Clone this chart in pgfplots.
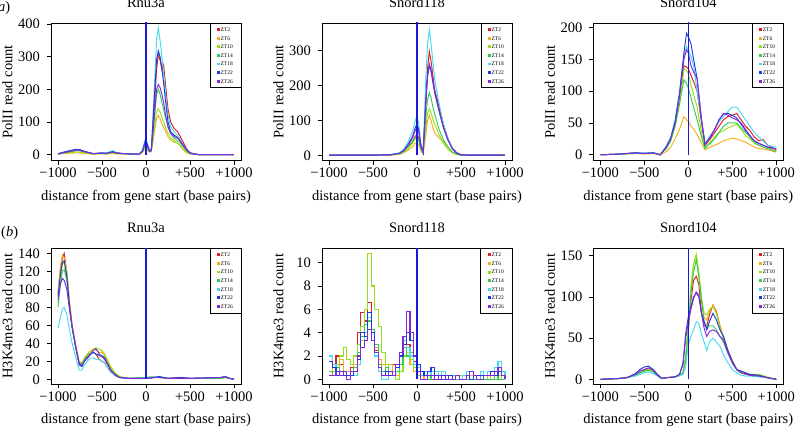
\documentclass[border=0pt]{standalone}
\usepackage{fontspec}
\setmainfont{Liberation Serif}
\usepackage{pgfplots}
\usepackage{pgfplotstable}
\pgfplotsset{compat=1.18}

\definecolor{zt2}{RGB}{225,30,35}
\definecolor{zt6}{RGB}{245,175,30}
\definecolor{zt10}{RGB}{150,225,20}
\definecolor{zt14}{RGB}{50,205,80}
\definecolor{zt18}{RGB}{70,220,240}
\definecolor{zt22}{RGB}{30,60,220}
\definecolor{zt26}{RGB}{130,40,220}
\definecolor{vl}{RGB}{25,25,215}

\newcommand\fs{\fontsize{14.5}{16}\selectfont}
\newcommand\lfs{\fontsize{5.5}{6}\selectfont}

% ---------- PolII Rnu3a ----------
\pgfplotstableread{
x a b c d e f g
-1000 2 2 2 2 3 3 2
-900 6 4 5 8 10 10 8
-800 12 5 8 12 16 16 14
-750 12 5 7 12 15 15 13
-700 8 3 5 8 10 10 9
-600 3 2 2 3 3 3 3
-500 4 2 3 4 6 5 5
-450 3 2 2 3 5 4 4
-380 7 3 5 7 12 9 8
-330 4 2 3 4 6 5 5
-250 3 2 2 3 3 3 3
-150 2 1 2 2 2 2 2
-80 1 1 1 1 1 1 1
-40 8 6 8 10 15 12 10
-10 30 20 25 30 45 40 35
10 25 15 20 25 40 35 30
40 10 8 8 10 14 12 10
60 12 10 10 12 15 14 12
90 120 60 70 100 180 150 100
120 260 110 130 185 350 290 200
140 305 120 140 200 388 318 215
160 290 110 130 185 350 300 205
180 260 95 115 160 300 265 185
200 275 85 100 140 250 220 160
220 220 72 85 115 190 170 125
250 140 55 65 85 120 100 85
280 100 45 52 65 85 70 65
320 80 38 42 50 70 60 55
360 70 35 35 42 60 52 50
380 60 30 30 38 50 45 45
420 40 15 18 25 30 30 30
460 18 6 8 12 15 15 15
500 6 2 3 4 5 5 5
550 2 1 1 1 2 2 2
600 0 0 0 0 0 0 0
1000 0 0 0 0 0 0 0
}\tA

% ---------- PolII Snord118 ----------
\pgfplotstableread{
x a b c d e f g
-1000 1 1 1 1 1 1 1
-500 1 1 1 1 1 1 1
-300 2 1 2 2 3 2 2
-200 5 3 4 5 8 6 6
-150 12 8 10 12 18 15 14
-100 25 15 20 25 40 32 30
-50 40 25 35 40 70 55 50
-20 55 35 48 52 100 80 72
0 60 38 50 55 115 90 82
20 50 30 42 45 90 75 68
40 25 15 20 22 40 35 30
70 8 5 5 6 10 8 8
100 150 60 80 110 220 160 150
120 250 100 120 160 320 230 225
140 298 115 133 180 361 262 258
160 270 100 122 165 320 245 240
180 230 80 105 140 270 215 210
200 190 65 90 120 220 185 180
250 140 50 60 75 150 130 128
300 90 40 35 45 90 80 80
350 50 25 18 25 50 45 45
400 22 10 8 10 22 20 20
450 8 3 3 4 8 7 7
500 2 1 1 1 2 2 2
600 1 1 1 1 1 1 1
1000 1 1 1 1 1 1 1
}\tB

% ---------- PolII Snord104 ----------
\pgfplotstableread{
x a b c d e f g
-1000 0 0 0 0 0 0 0
-800 1 1 1 1 1 1 1
-600 3 2 2 2 3 3 3
-500 2 1 2 2 3 2 2
-400 3 2 3 3 4 3 3
-320 0 0 0 0 0 0 0
-250 12 5 10 10 14 12 12
-200 25 12 22 22 28 26 26
-150 50 25 45 45 55 52 50
-100 90 40 80 80 100 95 95
-50 140 60 135 118 155 160 150
-20 138 55 132 112 170 191 165
0 135 52 128 105 165 185 160
30 125 45 110 90 155 175 140
60 115 40 95 75 140 150 130
100 100 32 75 55 100 120 120
150 50 18 35 28 55 55 55
190 15 8 12 10 18 16 15
250 25 12 20 18 30 28 28
300 35 15 28 25 40 40 40
350 45 18 35 35 52 55 55
400 55 22 38 45 60 64 65
450 60 24 42 50 68 65 62
500 62 26 45 50 75 62 58
550 65 25 48 50 75 58 55
600 55 22 40 42 65 48 50
650 45 20 30 35 55 38 40
700 38 16 25 28 45 30 30
750 28 12 18 20 35 22 22
800 22 10 15 15 28 18 18
850 24 9 12 12 22 15 15
900 15 8 10 10 15 12 12
1000 8 4 6 5 12 9 9
}\tC

% ---------- H3K4me3 Rnu3a ----------
\pgfplotstableread{
x a b c d e f g
-1000 95 95 85 80 57 92 88
-975 120 125 110 105 68 115 105
-950 135 138 128 120 78 130 112
-930 140 135 130 122 80 132 110
-900 118 120 112 110 72 115 100
-870 85 88 80 80 55 82 78
-840 60 60 58 58 40 58 58
-800 38 38 36 36 25 36 36
-760 18 20 18 18 10 16 18
-730 16 18 17 17 10 14 15
-700 22 24 22 22 16 20 20
-650 28 30 30 28 22 26 25
-600 30 34 32 30 24 30 32
-570 28 33 35 28 22 28 34
-530 22 30 33 26 22 27 28
-500 20 30 32 25 20 26 25
-470 18 26 28 22 18 24 22
-430 12 18 20 15 12 16 16
-400 8 12 14 10 8 10 10
-350 4 6 7 5 4 5 5
-300 2 3 3 2 2 2 2
-200 1 1 1 1 1 1 1
0 1 1 2 2 1 1 1
100 2 2 3 3 3 2 2
150 2 2 2 3 3 3 2
250 1 1 1 1 1 1 1
400 2 1 1 1 1 2 1
500 1 1 1 1 1 1 1
850 1 1 1 1 2 2 2
900 2 2 2 2 3 3 3
950 1 1 1 1 1 1 1
1000 0 0 0 0 0 0 0
}\tD

% ---------- H3K4me3 Snord118 ----------
\pgfplotstableread{
x a b c d e f g
-1000 0.3 0.3 0.3 0.7 2.0 1.5 0.3
-960 1.0 1.3 0.7 0.3 1.3 1.0 0.3
-920 2.0 0.7 1.3 1.0 0.7 0.3 0.7
-880 1.3 1.7 2.0 0.3 0.3 0.7 0.3
-840 0.7 0.3 2.7 0.7 0.7 0.3 0.7
-800 0.3 0.7 1.7 0.3 0.3 0.3 0
-760 1.0 0.3 1.3 0.7 0.7 0.3 0.7
-720 2.0 1.3 2.0 1.0 0.3 0.7 0.7
-680 4.0 2.0 3.0 2.3 1.3 1.7 2.0
-640 5.7 3.3 4.5 3.7 2.7 4.0 2.7
-600 5.0 4.0 6.0 4.7 4.0 3.7 3.3
-560 6.6 5.7 10.8 5.0 5.3 5.7 4.3
-520 4.0 4.3 8.0 4.3 3.3 4.0 3.3
-480 2.5 2.7 6.0 3.0 2.0 2.3 2.3
-440 1.3 1.7 4.5 1.3 0.7 1.0 1.0
-400 0.7 1.3 2.3 0.7 0 0.3 0.3
-360 0.3 0.7 1.3 1.0 0 0.7 0.3
-320 0.7 1.3 0.7 0.7 0.3 0.3 0.7
-280 1.3 0.7 0.3 0.3 0.7 0.3 0.3
-240 0.3 0.3 0 0.7 1.3 1.0 1.3
-200 0.7 1.3 0.7 1.3 2.0 2.0 2.3
-160 2.0 2.7 2.0 2.7 3.3 3.0 3.7
-120 3.0 2.3 2.7 2.0 2.7 4.0 5.8
-80 2.3 1.3 1.7 2.3 2.0 3.3 4.0
-40 1.5 0.7 1.0 1.3 1.3 2.0 2.0
0 0.7 0.3 0.3 0.7 1.0 1.3 0.7
40 0.3 0 0 0.3 0.3 0.7 0
80 0 0.3 0 0.3 0.7 0.3 0
120 0.3 0 0.3 0 0.3 0.7 0.3
160 0 0.3 0.7 0.3 0.7 1.0 0.3
200 0.3 0 0.3 0 0.7 0.3 0
240 0 0.7 0 0.3 0.3 0 0.3
280 0.3 0.7 0 0 0.7 0.3 0
320 0 0.3 0.3 0 0.3 0 0.3
360 0 0 0 0.3 0 0.3 0
400 0.3 0 0 0 0.3 0 0
440 0 0.3 0 0 0.3 0.3 0.3
480 0 0 0.3 0 0 0 0
520 0 0 0 0.3 0.3 0 0
560 0 0 0 0 0.7 0.3 0.3
600 0 0.3 0 0 0.7 0 0.7
640 0.3 0 0 0 0.3 0.3 0.3
680 0 0 0 0.3 0.3 0.3 0
720 0 0 0 0 0.7 0.3 0
760 0 0 0.3 0 0.3 0.3 0.3
800 0.3 0 0 0 0.7 0.3 0.3
840 0 0.3 0 0 0.3 0.7 0.3
880 0 0 0 0.3 1.0 0.3 0.7
920 0 0 0.3 0 1.5 0.7 1.0
960 0 0 0 0 0.7 0.3 0.3
1000 0 0 0 0 0.3 0.3 0
}\tE

% ---------- H3K4me3 Snord104 ----------
\pgfplotstableread{
x a b c d e f g
-1000 0 0 0 0 0 0 0
-800 1 1 1 1 1 1 1
-700 2 2 2 2 2 2 2
-600 6 5 5 5 4 7 6
-550 9 9 8 8 6 12 10
-500 11 12 10 10 8 15 12
-450 13 13 12 11 9 16 14
-400 10 11 10 9 7 12 11
-350 5 5 5 4 4 6 5
-300 1 1 1 1 1 1 1
-250 2 2 2 2 2 2 2
-150 3 3 3 3 3 3 3
-100 5 5 5 5 4 6 6
-60 8 8 8 8 6 20 18
-30 25 25 28 25 15 55 50
0 60 62 65 60 42 76 70
30 95 110 115 105 52 88 85
60 120 140 140 130 60 100 98
90 125 150 152 145 70 105 106
120 115 125 130 125 68 100 102
150 80 95 100 95 55 80 80
180 65 75 80 70 45 70 62
210 65 72 78 62 35 60 52
240 78 82 85 65 45 70 58
280 90 90 88 65 50 80 60
320 82 80 80 60 45 72 58
360 65 65 62 52 40 60 52
400 50 52 50 45 30 52 48
450 35 35 35 32 20 35 32
500 22 22 22 20 12 22 20
550 12 12 12 12 8 12 12
600 8 8 10 8 5 10 8
650 6 7 8 7 4 8 7
700 5 6 6 5 4 6 5
800 4 5 6 4 3 5 4
900 2 2 3 2 2 2 2
1000 0 0 0 0 0 0 0
}\tF

\newcommand\seven[2][]{%
  \addplot[zt2,#1] table[x=x,y=a]{#2};
  \addplot[zt6,#1] table[x=x,y=b]{#2};
  \addplot[zt10,#1] table[x=x,y=c]{#2};
  \addplot[zt14,#1] table[x=x,y=d]{#2};
  \addplot[zt18,#1] table[x=x,y=e]{#2};
  \addplot[zt22,#1] table[x=x,y=f]{#2};
  \addplot[zt26,#1] table[x=x,y=g]{#2};
}

\pgfplotsset{
  rplot/.style={
    scale only axis, width=190pt,
    xmin=-1080, xmax=1080,
    xtick={-1000,-500,0,500,1000},
    xticklabels={−1000,−500,0,+500,+1000},
    tick pos=left, tick align=outside, major tick length=4pt,
    every tick/.style={black,line width=0.6pt},
    axis line style={black,line width=0.6pt},
    tick label style={font=\fs},
    /pgf/number format/assume math mode=true,
    yticklabel style={xshift=-3.5pt},
    label style={font=\fs},
    title style={font=\fs, at={(axis description cs:0.5,1.106)}, anchor=center},
    xlabel={distance from gene start (base pairs)},
    xlabel style={at={(axis description cs:0.5,-0.263)}, anchor=center},
    ylabel style={at={(axis description cs:-0.229,0.5)}, anchor=center},
    every axis plot/.append style={line width=0.95pt, mark=none},
    legend entries={ZT2,ZT6,ZT10,ZT14,ZT18,ZT22,ZT26},
    legend style={at={(1,1)}, anchor=north east, draw=black, line width=0.5pt,
      font=\lfs, inner xsep=7pt, inner ysep=2pt, row sep=0pt,
      cells={anchor=west},
      nodes={inner xsep=1pt, inner ysep=0pt, text height=3.8pt, text depth=0pt, minimum height=8.6pt}},
    legend image code/.code={\fill[##1] (0pt,-0.9pt) rectangle (1.8pt,0.9pt);},
  },
  vline/.style={vl, line width=1.3pt, forget plot},
}

\begin{document}
\begin{tikzpicture}

\node[anchor=east, inner sep=0pt, font=\fs] at (10.5pt,420.7pt) {(\textit{a})};
\node[anchor=west, inner sep=0pt, font=\fs] at (1pt,195.7pt) {(\textit{b})};

% (a) row
\begin{axis}[rplot, at={(51pt,268.5pt)}, anchor=south west, height=137.5pt,
  ymin=-18, ymax=403, ytick={0,100,200,300,400},
  title={Rnu3a}, ylabel={PolII read count}]
  \seven{\tA}
  \addplot[vline] coordinates {(0,0) (0,410)};
\end{axis}

\begin{axis}[rplot, at={(322pt,268.5pt)}, anchor=south west, height=137.5pt,
  ymin=-14.4, ymax=379.5, ytick={0,100,200,300},
  title={Snord118}, ylabel={PolII read count}]
  \seven{\tB}
  \addplot[vline] coordinates {(0,0) (0,390)};
\end{axis}

\begin{axis}[rplot, at={(593.3pt,268.5pt)}, anchor=south west, height=137.5pt,
  ymin=-9, ymax=207, ytick={0,50,100,150,200},
  title={Snord104}, ylabel={PolII read count}]
  \seven{\tC}
  \addplot[vline] coordinates {(0,0) (0,210)};
\end{axis}

% (b) row
\begin{axis}[rplot, at={(51pt,44.7pt)}, anchor=south west, height=136pt,
  ymin=-5.6, ymax=145.6, ytick={0,20,40,60,80,100,120,140},
  title={Rnu3a}, ylabel={H3K4me3 read count}]
  \seven{\tD}
  \addplot[vline] coordinates {(0,0) (0,150)};
\end{axis}

\begin{axis}[rplot, at={(322pt,44.7pt)}, anchor=south west, height=136pt,
  ymin=-0.43, ymax=11.23, ytick={0,2,4,6,8,10},
  title={Snord118}, ylabel={H3K4me3 read count}]
  \seven[const plot, line width=1.2pt]{\tE}
  \addplot[vline] coordinates {(0,0) (0,12)};
\end{axis}

\begin{axis}[rplot, at={(593.3pt,44.7pt)}, anchor=south west, height=136pt,
  ymin=-6, ymax=158.9, ytick={0,50,100,150},
  title={Snord104}, ylabel={H3K4me3 read count}]
  \seven{\tF}
  \addplot[vline] coordinates {(0,0) (0,160)};
\end{axis}

\pgfresetboundingbox
\path[use as bounding box] (0,0) rectangle (797pt,429pt);
\end{tikzpicture}
\end{document}
